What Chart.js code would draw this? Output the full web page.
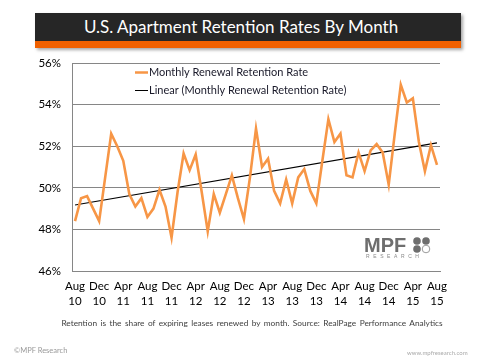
<html>
<head>
  <script src="https://cdn.jsdelivr.net/npm/chart.js@4.4.1/dist/chart.umd.min.js"></script>
  <style>
    body { margin:0; background:#fff; font-family:Lato, "Liberation Sans", sans-serif; }
    #wrap { position:relative; width:480px; height:360px; overflow:hidden; }
    #banner { position:absolute; left:35px; top:13px; width:426px; height:35px; box-shadow:2px 2px 3px rgba(0,0,0,0.35); }
    #banner .dark { height:28px; background:#262626; color:#fff; font-size:17px; line-height:28px; text-align:center; padding-right:14px; }
    #banner .orange { height:7px; background:#f06000; }
    #note { position:absolute; left:40px; top:318px; width:424px; text-align:center; font-size:8.3px; word-spacing:1.3px; color:#404040; }
    #copy { position:absolute; left:14px; top:346px; font-size:7.5px; color:#999; }
    #site { position:absolute; left:407px; top:349px; font-size:6px; color:#aaa; }
    canvas { position:absolute; left:0; top:0; }
  </style>
</head>
<body>
<div id="wrap">
  <canvas id="chart" width="480" height="360"></canvas>
  <div id="banner">
    <div class="dark">U.S. Apartment Retention Rates By Month</div>
    <div class="orange"></div>
  </div>
  <div id="note">Retention is the share of expiring leases renewed by month. Source: RealPage Performance Analytics</div>
  <div id="copy">&copy;MPF Research</div>
  <div id="site">www.mpfresearch.com</div>
</div>

<script>
// months Aug 2010 .. Aug 2015
var months = [
  'Aug 10','Sep 10','Oct 10','Nov 10','Dec 10','Jan 11','Feb 11','Mar 11','Apr 11','May 11','Jun 11','Jul 11',
  'Aug 11','Sep 11','Oct 11','Nov 11','Dec 11','Jan 12','Feb 12','Mar 12','Apr 12','May 12','Jun 12','Jul 12',
  'Aug 12','Sep 12','Oct 12','Nov 12','Dec 12','Jan 13','Feb 13','Mar 13','Apr 13','May 13','Jun 13','Jul 13',
  'Aug 13','Sep 13','Oct 13','Nov 13','Dec 13','Jan 14','Feb 14','Mar 14','Apr 14','May 14','Jun 14','Jul 14',
  'Aug 14','Sep 14','Oct 14','Nov 14','Dec 14','Jan 15','Feb 15','Mar 15','Apr 15','May 15','Jun 15','Jul 15',
  'Aug 15'
];

var retention = [
  48.4, 49.5, 49.6, 49.0, 48.4, 50.5, 52.6, 52.0, 51.3, 49.7,
  49.1, 49.5, 48.6, 49.0, 49.9, 49.1, 47.6, 49.8, 51.65, 50.85,
  51.6, 49.8, 47.9, 49.7, 48.8, 49.7, 50.6, 49.5, 48.5, 50.5,
  52.85, 51.0, 51.4, 49.85, 49.25, 50.4, 49.25, 50.5, 50.9, 49.85,
  49.25, 51.3, 53.3, 52.2, 52.6, 50.6, 50.5, 51.7, 50.8, 51.8,
  52.1, 51.7, 50.15, 52.6, 54.95, 54.1, 54.3, 52.2, 50.8, 52.05,
  51.1
];

// trendline end points
var trendStart = 49.17;
var trendEnd = 52.16;

var yTicks = [46, 48, 50, 52, 54, 56];

var seriesNames = ['Monthly Renewal Retention Rate', 'Linear (Monthly Renewal Retention Rate)'];

var trend = months.map(function (m, i) {
  if (i === 0) return trendStart;
  if (i === months.length - 1) return trendEnd;
  return null;
});

var orange = '#f79646';
var gridColor = '#868686';

var overlay = {
  id: 'overlay',
  afterDraw: function (chart) {
    var ctx = chart.ctx;
    ctx.save();
    // legend
    ctx.font = '11px Lato';
    ctx.textBaseline = 'middle';
    ctx.fillStyle = '#1a1a2a';
    ctx.lineCap = 'butt';
    ctx.strokeStyle = orange; ctx.lineWidth = 2.5;
    ctx.beginPath(); ctx.moveTo(135, 72.5); ctx.lineTo(148, 72.5); ctx.stroke();
    ctx.fillText(seriesNames[0], 149, 72.5);
    ctx.strokeStyle = '#000'; ctx.lineWidth = 1;
    ctx.beginPath(); ctx.moveTo(135, 90.5); ctx.lineTo(148, 90.5); ctx.stroke();
    ctx.fillText(seriesNames[1], 149, 90.5);

    // MPF logo
    ctx.textBaseline = 'alphabetic';
    ctx.font = 'bold 20px "Liberation Sans"';
    ctx.fillStyle = '#6e6e6e';
    ctx.fillText('MPF', 364, 251.5);
    var dots = [[417, 241, 1], [426, 241, 1], [417, 249, 1], [426, 249, 0]];
    dots.forEach(function (d) {
      ctx.beginPath(); ctx.arc(d[0], d[1], 3.8, 0, Math.PI * 2);
      if (d[2]) { ctx.fillStyle = '#6e6e6e'; ctx.fill(); }
      else { ctx.strokeStyle = '#9a9a9a'; ctx.lineWidth = 1; ctx.stroke(); }
    });
    ctx.font = '5px "Liberation Sans"';
    ctx.fillStyle = '#888';
    ctx.letterSpacing = '3.6px';
    ctx.fillText('RESEARCH', 366, 258);
    ctx.restore();
  }
};

new Chart(document.getElementById('chart'), {
  type: 'line',
  data: {
    labels: months,
    datasets: [
      { label: seriesNames[0], data: retention, borderColor: orange, borderWidth: 2.6,
        pointRadius: 0, tension: 0, fill: false },
      { label: seriesNames[1], data: trend, borderColor: '#000', borderWidth: 1.1,
        pointRadius: 0, spanGaps: true, fill: false }
    ]
  },
  options: {
    responsive: false,
    animation: false,
    layout: { padding: { left: 0, right: 40, top: 63, bottom: 0 } },
    plugins: { legend: { display: false }, tooltip: { enabled: false }, title: { display: false } },
    scales: {
      x: {
        type: 'category',
        offset: true,
        grid: { display: false, drawTicks: false },
        border: { display: true, color: gridColor, width: 1 },
        afterFit: function (s) { s.height = 89; },
        ticks: {
          autoSkip: false, maxRotation: 0, minRotation: 0, padding: 8,
          color: '#000', font: { family: 'Lato', size: 11.5, lineHeight: 1.3 },
          callback: function (v, i) { return i % 4 === 0 ? months[i].split(' ') : ''; }
        }
      },
      y: {
        min: yTicks[0], max: yTicks[yTicks.length - 1],
        afterFit: function (s) { s.width = 72; },
        afterBuildTicks: function (s) { s.ticks = yTicks.map(function (v) { return { value: v }; }); },
        grid: { color: gridColor, lineWidth: 1, drawTicks: false },
        border: { display: true, color: gridColor, width: 1 },
        ticks: {
          padding: 11, color: '#000', font: { family: 'Lato', size: 11.5 },
          callback: function (v) { return v + '%'; }
        }
      }
    }
  },
  plugins: [overlay]
});
</script>
</body>
</html>
